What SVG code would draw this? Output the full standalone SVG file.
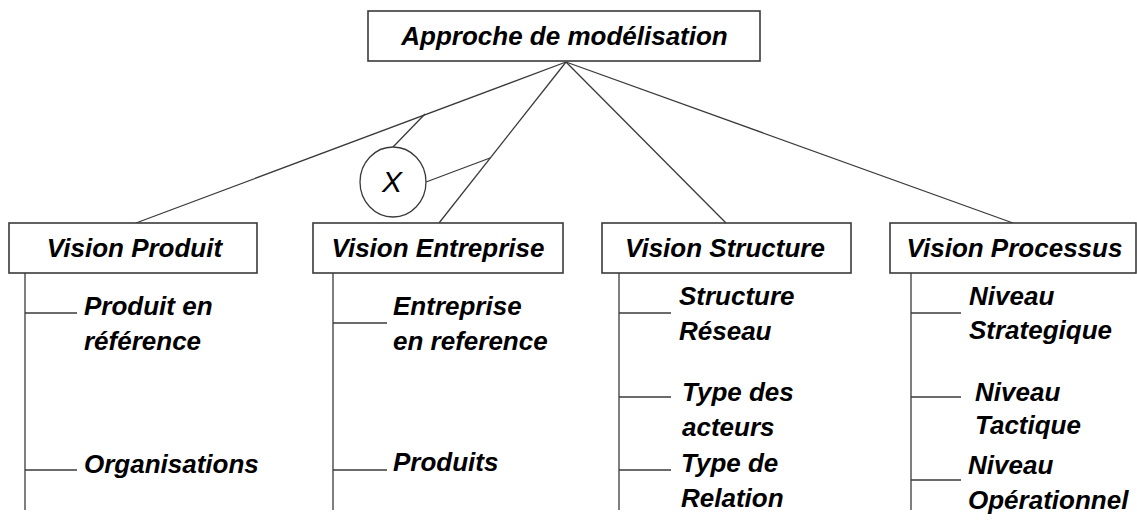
<svg xmlns="http://www.w3.org/2000/svg" width="1137" height="521" viewBox="0 0 1137 521">
<style>
.box{fill:#fff;stroke:#3a3a3a;stroke-width:1.6}
.ln{stroke:#3a3a3a;stroke-width:1.3;fill:none}
.t{font-family:"Liberation Sans",Arial,sans-serif;font-size:26px;font-weight:bold;font-style:italic;fill:#000}
.c{text-anchor:middle}
.x{font-family:"Liberation Sans",Arial,sans-serif;font-size:30px;font-style:italic;fill:#000;text-anchor:middle}
</style>
<rect width="1137" height="521" fill="#fff"/>
<g id="connectors">
<line class="ln" x1="566" y1="62" x2="136" y2="223"/>
<line class="ln" x1="566" y1="62" x2="439" y2="223"/>
<line class="ln" x1="566" y1="62" x2="726" y2="223"/>
<line class="ln" x1="566" y1="62" x2="1013" y2="223"/>
<line class="ln" x1="393" y1="147" x2="425" y2="114"/>
<line class="ln" x1="426" y1="182" x2="490" y2="158"/>
<line class="ln" x1="25" y1="273" x2="25" y2="510"/>
<line class="ln" x1="25" y1="313" x2="77" y2="313"/>
<line class="ln" x1="25" y1="470" x2="77" y2="470"/>
<line class="ln" x1="333" y1="273" x2="333" y2="510"/>
<line class="ln" x1="333" y1="323" x2="387" y2="323"/>
<line class="ln" x1="333" y1="470" x2="387" y2="470"/>
<line class="ln" x1="619" y1="273" x2="619" y2="510"/>
<line class="ln" x1="619" y1="313" x2="671" y2="313"/>
<line class="ln" x1="619" y1="397" x2="671" y2="397"/>
<line class="ln" x1="619" y1="470" x2="671" y2="470"/>
<line class="ln" x1="911" y1="273" x2="911" y2="510"/>
<line class="ln" x1="911" y1="313" x2="961" y2="313"/>
<line class="ln" x1="911" y1="397" x2="961" y2="397"/>
<line class="ln" x1="911" y1="480" x2="961" y2="480"/>
</g>
<g id="root">
<rect class="box" x="368" y="11" width="392" height="50"/>
<text class="t c" x="564.5" y="45">Approche de modélisation</text>
</g>
<g id="xor">
<ellipse cx="393" cy="182" rx="33" ry="35" fill="#fff" stroke="#3a3a3a" stroke-width="1.3"/>
<text class="x" x="392" y="192">X</text>
</g>
<g id="vision-produit">
<rect class="box" x="9" y="223" width="248" height="50"/>
<text class="t c" x="134.5" y="257">Vision Produit</text>
<text class="t" x="84" y="315">Produit en</text>
<text class="t" x="84" y="350">référence</text>
<text class="t" x="84" y="473">Organisations</text>
</g>
<g id="vision-entreprise">
<rect class="box" x="313" y="223" width="250" height="50"/>
<text class="t c" x="438" y="257">Vision Entreprise</text>
<text class="t" x="393" y="315">Entreprise</text>
<text class="t" x="393" y="350">en reference</text>
<text class="t" x="393" y="471">Produits</text>
</g>
<g id="vision-structure">
<rect class="box" x="602" y="223" width="249" height="50"/>
<text class="t c" x="725" y="257">Vision Structure</text>
<text class="t" x="679" y="305">Structure</text>
<text class="t" x="679" y="340">Réseau</text>
<text class="t" x="682" y="401">Type des</text>
<text class="t" x="682" y="436">acteurs</text>
<text class="t" x="681" y="472">Type de</text>
<text class="t" x="681" y="507">Relation</text>
</g>
<g id="vision-processus">
<rect class="box" x="890" y="223" width="246" height="50"/>
<text class="t c" x="1014.5" y="257">Vision Processus</text>
<text class="t" x="969" y="305">Niveau</text>
<text class="t" x="969" y="339">Strategique</text>
<text class="t" x="975" y="401">Niveau</text>
<text class="t" x="975" y="434">Tactique</text>
<text class="t" x="968" y="474">Niveau</text>
<text class="t" x="968" y="509">Opérationnel</text>
</g>
</svg>
